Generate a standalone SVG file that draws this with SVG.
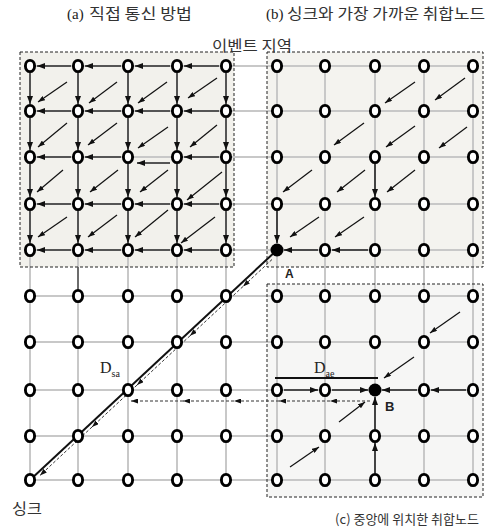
<svg xmlns="http://www.w3.org/2000/svg" width="492" height="532" viewBox="0 0 492 532">
<style>
.bg{fill:#fff}
.boxa{fill:#f2f1ec}
.boxb{fill:#f4f3ef}
.boxc{fill:#f6f6f5}
.edge{fill:none;stroke:#222;stroke-width:1;stroke-dasharray:3 2}
.grid{fill:none;stroke:#c8c8c8;stroke-width:2}
.flow{stroke:#555;stroke-width:2;marker-end:url(#ah)}
.flowk{stroke:#222;stroke-width:1.6;marker-end:url(#ah)}
.diag{stroke:#111;stroke-width:1.2;marker-end:url(#ahs)}
.dash{stroke:#333;stroke-width:1;stroke-dasharray:3 2;marker-end:url(#ahs)}
.node ellipse{fill:#fff;stroke:#000;stroke-width:2.9}
.agg circle{fill:#000}
.ttl{font-family:"Noto Sans CJK KR","Noto Sans",sans-serif;fill:#333}
.ser{font-family:"Liberation Serif",serif;fill:#222}
.lbl{font-family:"Liberation Sans",Arial,sans-serif;font-weight:bold;fill:#222}
</style>
<defs>
<marker id="ah" viewBox="0 0 8 6" refX="8" refY="3" markerWidth="8" markerHeight="6" markerUnits="userSpaceOnUse" orient="auto"><path d="M0,0 L8,3 L0,6 z" fill="#111"/></marker>
<marker id="ahs" viewBox="0 0 7 5" refX="7" refY="2.5" markerWidth="7" markerHeight="5" markerUnits="userSpaceOnUse" orient="auto"><path d="M0,0 L7,2.5 L0,5 z" fill="#111"/></marker>
</defs>
<rect class="bg" x="0" y="0" width="492" height="532"/>
<g id="regions">
<rect class="boxa" x="20" y="52" width="214" height="215"/>
<rect class="boxb" x="267" y="52" width="216" height="215"/>
<rect class="boxc" x="267" y="284" width="216" height="213"/>
</g>
<g id="grid" class="grid">
<path d="M30 66H473M30 111H473M30 157H473M30 204H473M30 250H473M30 296H473M30 342H473M30 390H473M30 436H473M30 480H473"/>
<path d="M30 66V480M78 66V480M128 66V480M177 66V480M226 66V480M277 66V480M325 66V480M375 66V480M424 66V480M473 66V480"/>
</g>
<g id="region-edges">
<rect class="edge" x="20" y="52" width="214" height="215"/>
<rect class="edge" x="267" y="52" width="216" height="215"/>
<rect class="edge" x="267" y="284" width="216" height="213"/>
</g>
<g id="connectors">
<line class="flow" x1="71" y1="66" x2="37" y2="66"/><line class="flow" x1="121" y1="66" x2="85" y2="66"/><line class="flow" x1="170" y1="66" x2="135" y2="66"/><line class="flow" x1="219" y1="66" x2="184" y2="66"/>
<line class="flow" x1="71" y1="111" x2="37" y2="111"/><line class="flow" x1="121" y1="111" x2="85" y2="111"/><line class="flow" x1="170" y1="111" x2="135" y2="111"/><line class="flow" x1="219" y1="111" x2="184" y2="111"/>
<line class="flow" x1="71" y1="157" x2="37" y2="157"/><line class="flow" x1="121" y1="157" x2="85" y2="157"/><line class="flow" x1="170" y1="163" x2="137" y2="163"/><line class="flow" x1="219" y1="157" x2="184" y2="157"/>
<line class="flow" x1="71" y1="204" x2="37" y2="204"/><line class="flow" x1="121" y1="204" x2="85" y2="204"/><line class="flow" x1="170" y1="204" x2="135" y2="204"/><line class="flow" x1="219" y1="204" x2="184" y2="204"/>
<line class="flow" x1="71" y1="250" x2="37" y2="250"/><line class="flow" x1="121" y1="250" x2="85" y2="250"/><line class="flow" x1="170" y1="250" x2="135" y2="250"/><line class="flow" x1="219" y1="250" x2="184" y2="250"/>
<line class="flow" x1="30" y1="73" x2="30" y2="104"/><line class="flow" x1="30" y1="118" x2="30" y2="150"/><line class="flow" x1="30" y1="164" x2="30" y2="197"/><line class="flow" x1="30" y1="211" x2="30" y2="243"/>
<line class="flow" x1="78" y1="73" x2="78" y2="104"/><line class="flow" x1="78" y1="118" x2="78" y2="150"/><line class="flow" x1="78" y1="164" x2="78" y2="197"/><line class="flow" x1="78" y1="211" x2="78" y2="243"/>
<line class="flow" x1="128" y1="73" x2="128" y2="104"/><line class="flow" x1="128" y1="118" x2="128" y2="150"/><line class="flow" x1="128" y1="164" x2="128" y2="197"/><line class="flow" x1="128" y1="211" x2="128" y2="243"/>
<line class="flow" x1="177" y1="73" x2="177" y2="104"/><line class="flow" x1="177" y1="118" x2="177" y2="150"/><line class="flow" x1="177" y1="164" x2="177" y2="197"/><line class="flow" x1="177" y1="211" x2="177" y2="243"/>
<line class="flow" x1="226" y1="73" x2="226" y2="104"/><line class="flow" x1="226" y1="118" x2="226" y2="150"/><line class="flow" x1="226" y1="164" x2="226" y2="197"/><line class="flow" x1="226" y1="211" x2="226" y2="243"/>
<line x1="78" y1="267" x2="78" y2="289" stroke="#555" stroke-width="1.6"/>
<line class="diag" x1="67" y1="82" x2="38" y2="102"/><line class="diag" x1="117" y1="82" x2="89" y2="103"/><line class="diag" x1="167" y1="82" x2="138" y2="103"/><line class="diag" x1="217" y1="78" x2="188" y2="98"/>
<line class="diag" x1="67" y1="123" x2="38" y2="147"/><line class="diag" x1="117" y1="123" x2="88" y2="145"/><line class="diag" x1="168" y1="127" x2="138" y2="148"/><line class="diag" x1="217" y1="125" x2="190" y2="147"/>
<line class="diag" x1="63" y1="170" x2="37" y2="192"/><line class="diag" x1="118" y1="170" x2="90" y2="192"/><line class="diag" x1="168" y1="170" x2="140" y2="192"/><line class="diag" x1="222" y1="172" x2="187" y2="200"/>
<line class="diag" x1="67" y1="217" x2="38" y2="237"/><line class="diag" x1="117" y1="215" x2="88" y2="237"/><line class="diag" x1="168" y1="210" x2="135" y2="237"/><line class="diag" x1="215" y1="217" x2="181" y2="243"/>
<line class="diag" x1="415" y1="82" x2="385" y2="103"/><line class="diag" x1="465" y1="78" x2="435" y2="100"/>
<line class="diag" x1="364" y1="123" x2="334" y2="145"/><line class="diag" x1="415" y1="126" x2="386" y2="147"/><line class="diag" x1="467" y1="127" x2="439" y2="148"/>
<line class="diag" x1="312" y1="170" x2="283" y2="192"/><line class="diag" x1="365" y1="170" x2="337" y2="192"/><line class="diag" x1="415" y1="170" x2="387" y2="192"/>
<line class="diag" x1="319" y1="217" x2="290" y2="237"/><line class="diag" x1="364" y1="217" x2="335" y2="237"/>
<line class="flowk" x1="375" y1="164" x2="375" y2="197"/><line class="flowk" x1="277" y1="211" x2="277" y2="243"/>
<line class="flowk" x1="368" y1="250" x2="332" y2="250"/><line class="flowk" x1="318" y1="250" x2="284" y2="250"/>
<line x1="277" y1="250" x2="30" y2="480" stroke="#111" stroke-width="2"/>
<line class="dash" x1="272" y1="259.5" x2="243" y2="286.5"/><line class="dash" x1="243" y1="286.5" x2="190" y2="335.8"/><line class="dash" x1="190" y1="335.8" x2="137" y2="385.1"/><line class="dash" x1="137" y1="385.1" x2="92" y2="427"/><line class="dash" x1="92" y1="427" x2="40" y2="475.4"/>
<line class="diag" x1="460" y1="312" x2="430" y2="333"/><line class="diag" x1="414" y1="357" x2="384" y2="378"/>
<line class="diag" x1="339" y1="422" x2="365" y2="402"/><line class="diag" x1="290" y1="467" x2="319" y2="447"/>
<line class="flowk" x1="284" y1="390" x2="318" y2="390"/><line class="flowk" x1="332" y1="390" x2="368" y2="390"/>
<line class="flowk" x1="417" y1="390" x2="382" y2="390"/><line class="flowk" x1="466" y1="390" x2="431" y2="390"/>
<line class="flowk" x1="375" y1="473" x2="375" y2="443"/><line class="flowk" x1="375" y1="429" x2="375" y2="397"/>
<line class="dash" x1="370" y1="401" x2="330" y2="401"/><line class="dash" x1="330" y1="401" x2="279" y2="401"/><line class="dash" x1="279" y1="401" x2="234" y2="401"/><line class="dash" x1="234" y1="401" x2="183" y2="401"/><line class="dash" x1="183" y1="401" x2="131" y2="401"/>
<line x1="275" y1="378" x2="378" y2="378" stroke="#111" stroke-width="2"/>
</g>
<g id="nodes">
<g id="n00" class="node"><ellipse cx="30" cy="66" rx="4.6" ry="5.6"/></g><g id="n01" class="node"><ellipse cx="78" cy="66" rx="4.6" ry="5.6"/></g><g id="n02" class="node"><ellipse cx="128" cy="66" rx="4.6" ry="5.6"/></g><g id="n03" class="node"><ellipse cx="177" cy="66" rx="4.6" ry="5.6"/></g><g id="n04" class="node"><ellipse cx="226" cy="66" rx="4.6" ry="5.6"/></g><g id="n05" class="node"><ellipse cx="277" cy="66" rx="4.6" ry="5.6"/></g><g id="n06" class="node"><ellipse cx="325" cy="66" rx="4.6" ry="5.6"/></g><g id="n07" class="node"><ellipse cx="375" cy="66" rx="4.6" ry="5.6"/></g><g id="n08" class="node"><ellipse cx="424" cy="66" rx="4.6" ry="5.6"/></g><g id="n09" class="node"><ellipse cx="473" cy="66" rx="4.6" ry="5.6"/></g>
<g id="n10" class="node"><ellipse cx="30" cy="111" rx="4.6" ry="5.6"/></g><g id="n11" class="node"><ellipse cx="78" cy="111" rx="4.6" ry="5.6"/></g><g id="n12" class="node"><ellipse cx="128" cy="111" rx="4.6" ry="5.6"/></g><g id="n13" class="node"><ellipse cx="177" cy="111" rx="4.6" ry="5.6"/></g><g id="n14" class="node"><ellipse cx="226" cy="111" rx="4.6" ry="5.6"/></g><g id="n15" class="node"><ellipse cx="277" cy="111" rx="4.6" ry="5.6"/></g><g id="n16" class="node"><ellipse cx="325" cy="111" rx="4.6" ry="5.6"/></g><g id="n17" class="node"><ellipse cx="375" cy="111" rx="4.6" ry="5.6"/></g><g id="n18" class="node"><ellipse cx="424" cy="111" rx="4.6" ry="5.6"/></g><g id="n19" class="node"><ellipse cx="473" cy="111" rx="4.6" ry="5.6"/></g>
<g id="n20" class="node"><ellipse cx="30" cy="157" rx="4.6" ry="5.6"/></g><g id="n21" class="node"><ellipse cx="78" cy="157" rx="4.6" ry="5.6"/></g><g id="n22" class="node"><ellipse cx="128" cy="157" rx="4.6" ry="5.6"/></g><g id="n23" class="node"><ellipse cx="177" cy="157" rx="4.6" ry="5.6"/></g><g id="n24" class="node"><ellipse cx="226" cy="157" rx="4.6" ry="5.6"/></g><g id="n25" class="node"><ellipse cx="277" cy="157" rx="4.6" ry="5.6"/></g><g id="n26" class="node"><ellipse cx="325" cy="157" rx="4.6" ry="5.6"/></g><g id="n27" class="node"><ellipse cx="375" cy="157" rx="4.6" ry="5.6"/></g><g id="n28" class="node"><ellipse cx="424" cy="157" rx="4.6" ry="5.6"/></g><g id="n29" class="node"><ellipse cx="473" cy="157" rx="4.6" ry="5.6"/></g>
<g id="n30" class="node"><ellipse cx="30" cy="204" rx="4.6" ry="5.6"/></g><g id="n31" class="node"><ellipse cx="78" cy="204" rx="4.6" ry="5.6"/></g><g id="n32" class="node"><ellipse cx="128" cy="204" rx="4.6" ry="5.6"/></g><g id="n33" class="node"><ellipse cx="177" cy="204" rx="4.6" ry="5.6"/></g><g id="n34" class="node"><ellipse cx="226" cy="204" rx="4.6" ry="5.6"/></g><g id="n35" class="node"><ellipse cx="277" cy="204" rx="4.6" ry="5.6"/></g><g id="n36" class="node"><ellipse cx="325" cy="204" rx="4.6" ry="5.6"/></g><g id="n37" class="node"><ellipse cx="375" cy="204" rx="4.6" ry="5.6"/></g><g id="n38" class="node"><ellipse cx="424" cy="204" rx="4.6" ry="5.6"/></g><g id="n39" class="node"><ellipse cx="473" cy="204" rx="4.6" ry="5.6"/></g>
<g id="n40" class="node"><ellipse cx="30" cy="250" rx="4.6" ry="5.6"/></g><g id="n41" class="node"><ellipse cx="78" cy="250" rx="4.6" ry="5.6"/></g><g id="n42" class="node"><ellipse cx="128" cy="250" rx="4.6" ry="5.6"/></g><g id="n43" class="node"><ellipse cx="177" cy="250" rx="4.6" ry="5.6"/></g><g id="n44" class="node"><ellipse cx="226" cy="250" rx="4.6" ry="5.6"/></g><g id="nA" class="agg"><circle cx="277" cy="250" r="6.5"/></g><g id="n46" class="node"><ellipse cx="325" cy="250" rx="4.6" ry="5.6"/></g><g id="n47" class="node"><ellipse cx="375" cy="250" rx="4.6" ry="5.6"/></g><g id="n48" class="node"><ellipse cx="424" cy="250" rx="4.6" ry="5.6"/></g><g id="n49" class="node"><ellipse cx="473" cy="250" rx="4.6" ry="5.6"/></g>
<g id="n50" class="node"><ellipse cx="30" cy="296" rx="4.6" ry="5.6"/></g><g id="n51" class="node"><ellipse cx="78" cy="296" rx="4.6" ry="5.6"/></g><g id="n52" class="node"><ellipse cx="128" cy="296" rx="4.6" ry="5.6"/></g><g id="n53" class="node"><ellipse cx="177" cy="296" rx="4.6" ry="5.6"/></g><g id="n54" class="node"><ellipse cx="226" cy="296" rx="4.6" ry="5.6"/></g><g id="n55" class="node"><ellipse cx="277" cy="296" rx="4.6" ry="5.6"/></g><g id="n56" class="node"><ellipse cx="325" cy="296" rx="4.6" ry="5.6"/></g><g id="n57" class="node"><ellipse cx="375" cy="296" rx="4.6" ry="5.6"/></g><g id="n58" class="node"><ellipse cx="424" cy="296" rx="4.6" ry="5.6"/></g><g id="n59" class="node"><ellipse cx="473" cy="296" rx="4.6" ry="5.6"/></g>
<g id="n60" class="node"><ellipse cx="30" cy="342" rx="4.6" ry="5.6"/></g><g id="n61" class="node"><ellipse cx="78" cy="342" rx="4.6" ry="5.6"/></g><g id="n62" class="node"><ellipse cx="128" cy="342" rx="4.6" ry="5.6"/></g><g id="n63" class="node"><ellipse cx="177" cy="342" rx="4.6" ry="5.6"/></g><g id="n64" class="node"><ellipse cx="226" cy="342" rx="4.6" ry="5.6"/></g><g id="n65" class="node"><ellipse cx="277" cy="342" rx="4.6" ry="5.6"/></g><g id="n66" class="node"><ellipse cx="325" cy="342" rx="4.6" ry="5.6"/></g><g id="n67" class="node"><ellipse cx="375" cy="342" rx="4.6" ry="5.6"/></g><g id="n68" class="node"><ellipse cx="424" cy="342" rx="4.6" ry="5.6"/></g><g id="n69" class="node"><ellipse cx="473" cy="342" rx="4.6" ry="5.6"/></g>
<g id="n70" class="node"><ellipse cx="30" cy="390" rx="4.6" ry="5.6"/></g><g id="n71" class="node"><ellipse cx="78" cy="390" rx="4.6" ry="5.6"/></g><g id="n72" class="node"><ellipse cx="128" cy="390" rx="4.6" ry="5.6"/></g><g id="n73" class="node"><ellipse cx="177" cy="390" rx="4.6" ry="5.6"/></g><g id="n74" class="node"><ellipse cx="226" cy="390" rx="4.6" ry="5.6"/></g><g id="n75" class="node"><ellipse cx="277" cy="390" rx="4.6" ry="5.6"/></g><g id="n76" class="node"><ellipse cx="325" cy="390" rx="4.6" ry="5.6"/></g><g id="nB" class="agg"><circle cx="375" cy="390" r="6.5"/></g><g id="n78" class="node"><ellipse cx="424" cy="390" rx="4.6" ry="5.6"/></g><g id="n79" class="node"><ellipse cx="473" cy="390" rx="4.6" ry="5.6"/></g>
<g id="n80" class="node"><ellipse cx="30" cy="436" rx="4.6" ry="5.6"/></g><g id="n81" class="node"><ellipse cx="78" cy="436" rx="4.6" ry="5.6"/></g><g id="n82" class="node"><ellipse cx="128" cy="436" rx="4.6" ry="5.6"/></g><g id="n83" class="node"><ellipse cx="177" cy="436" rx="4.6" ry="5.6"/></g><g id="n84" class="node"><ellipse cx="226" cy="436" rx="4.6" ry="5.6"/></g><g id="n85" class="node"><ellipse cx="277" cy="436" rx="4.6" ry="5.6"/></g><g id="n86" class="node"><ellipse cx="325" cy="436" rx="4.6" ry="5.6"/></g><g id="n87" class="node"><ellipse cx="375" cy="436" rx="4.6" ry="5.6"/></g><g id="n88" class="node"><ellipse cx="424" cy="436" rx="4.6" ry="5.6"/></g><g id="n89" class="node"><ellipse cx="473" cy="436" rx="4.6" ry="5.6"/></g>
<g id="nSink" class="node"><ellipse cx="30" cy="480" rx="4.6" ry="5.6"/></g><g id="n91" class="node"><ellipse cx="78" cy="480" rx="4.6" ry="5.6"/></g><g id="n92" class="node"><ellipse cx="128" cy="480" rx="4.6" ry="5.6"/></g><g id="n93" class="node"><ellipse cx="177" cy="480" rx="4.6" ry="5.6"/></g><g id="n94" class="node"><ellipse cx="226" cy="480" rx="4.6" ry="5.6"/></g><g id="n95" class="node"><ellipse cx="277" cy="480" rx="4.6" ry="5.6"/></g><g id="n96" class="node"><ellipse cx="325" cy="480" rx="4.6" ry="5.6"/></g><g id="n97" class="node"><ellipse cx="375" cy="480" rx="4.6" ry="5.6"/></g><g id="n98" class="node"><ellipse cx="424" cy="480" rx="4.6" ry="5.6"/></g><g id="n99" class="node"><ellipse cx="473" cy="480" rx="4.6" ry="5.6"/></g>
</g>
<g id="labels">
<text class="ser" x="67" y="19" font-size="15">(a)</text>
<text class="ttl" x="89" y="19" font-size="15" textLength="103" lengthAdjust="spacingAndGlyphs">직접 통신 방법</text>
<text class="ser" x="266" y="19" font-size="15">(b)</text>
<text class="ttl" x="287" y="19" font-size="15" textLength="198" lengthAdjust="spacingAndGlyphs">싱크와 가장 가까운 취합노드</text>
<text class="ttl" x="407" y="524" font-size="13" text-anchor="middle">(c) 중앙에 위치한 취합노드</text>
<text class="ttl" x="212" y="51" font-size="15" textLength="80" lengthAdjust="spacingAndGlyphs">이벤트 지역</text>
<text class="ttl" x="12" y="514" font-size="15" textLength="30" lengthAdjust="spacingAndGlyphs">싱크</text>
<text class="lbl" x="285" y="278" font-size="12">A</text>
<text class="lbl" x="385" y="411" font-size="13">B</text>
<text class="ser" x="100" y="373" font-size="16">D<tspan font-size="10" dy="4">sa</tspan></text>
<text class="ser" x="314" y="373" font-size="16">D<tspan font-size="10" dy="4">ae</tspan></text>
</g>
</svg>
